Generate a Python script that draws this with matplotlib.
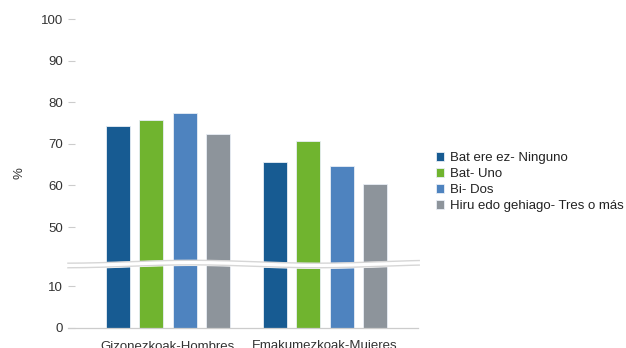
import numpy as np
import matplotlib
matplotlib.use("Agg")
import matplotlib.pyplot as plt

plt.rcParams['font.family'] = ['Liberation Sans', 'DejaVu Sans']

# ----------------------------
# DATA
# ----------------------------
groups = ["Gizonezkoak-Hombres", "Emakumezkoak-Mujeres"]
series = ["Bat ere ez- Ninguno", "Bat- Uno", "Bi- Dos", "Hiru edo gehiago- Tres o más"]
ninguno = [74.3, 65.6]
uno = [75.7, 70.8]
dos = [77.4, 64.7]
tres = [72.3, 60.3]
colors = ["#175b92", "#70b42f", "#4e83bf", "#8d949b"]

yticks = [0, 10, 50, 60, 70, 80, 90, 100]

# ----------------------------
# BROKEN AXIS SCALE (15..41 squeezed out)
# ----------------------------
BRK_LO, BRK_HI = 15.0, 41.0
SQUEEZE = 0.3


def fwd(v):
    v = np.asarray(v, dtype=float)
    return np.interp(v, [0, BRK_LO, BRK_HI, 200],
                     [0, BRK_LO, BRK_LO + SQUEEZE, BRK_LO + SQUEEZE + 159])


def inv(v):
    v = np.asarray(v, dtype=float)
    return np.interp(v, [0, BRK_LO, BRK_LO + SQUEEZE, BRK_LO + SQUEEZE + 159],
                     [0, BRK_LO, BRK_HI, 200])


# ----------------------------
# FIGURE
# ----------------------------
fig = plt.figure(figsize=(6.26, 3.48), dpi=100)
ax = fig.add_axes([75 / 626, 20 / 348, 343 / 626, 308.7 / 348])
ax.set_yscale('function', functions=(fwd, inv))

x = np.arange(len(groups))
width = 0.153
step = 0.213
all_vals = [ninguno, uno, dos, tres]
handles = []
for i, (vals, name, col) in enumerate(zip(all_vals, series, colors)):
    b = ax.bar(x + (i - 1.5) * step, vals, width, color=col,
               edgecolor="#e8eef5", linewidth=0.6, label=name, zorder=2)
    handles.append(b)

ax.set_xlim(-0.592, 1.592)
ax.set_ylim(0, 100)
ax.set_yticks(yticks)
ax.set_yticklabels([str(t) for t in yticks])
ax.yaxis.set_minor_locator(matplotlib.ticker.NullLocator())
ax.set_xticks(x)
ax.set_xticklabels(groups)

ax.tick_params(axis='y', length=5, width=0.8, color="#cccccc", pad=3.5,
               labelsize=9.5, labelcolor="#333333")
ax.tick_params(axis='x', length=0, pad=9, labelsize=9.5, labelcolor="#333333")

for s in ["top", "right", "left"]:
    ax.spines[s].set_visible(False)
ax.spines["bottom"].set_color("#cccccc")
ax.spines["bottom"].set_linewidth(0.9)
ax.spines["bottom"].set_bounds(-0.637, 1.592)
ax.spines["bottom"].set_clip_on(False)

ax.set_ylabel("%", fontsize=9.5, color="#333333")
ax.yaxis.set_label_coords(-0.143, 0.502)

# wavy break band across the bars
bx = np.linspace(-0.637, 1.6, 400)
wave = 0.35 * np.sin((bx + 0.25) * 2 * np.pi / 1.6)
mid = 15.4
lo = inv(mid - 0.55 + wave)
hi = inv(mid + 0.55 + wave)
ax.fill_between(bx, lo, hi, color="white", zorder=3, clip_on=False)
ax.plot(bx, lo, color="#d6d6d6", lw=1.0, zorder=4, clip_on=False)
ax.plot(bx, hi, color="#d6d6d6", lw=1.0, zorder=4, clip_on=False)

fig.legend(handles=handles, labels=series, loc="center left",
           bbox_to_anchor=(429 / 626, 1 - 182 / 348), frameon=False,
           fontsize=9.5, handlelength=0.65, handleheight=0.65,
           handletextpad=0.45, labelspacing=0.3, borderpad=0,
           labelcolor="#222222")

fig.savefig("out.png", dpi=100)
